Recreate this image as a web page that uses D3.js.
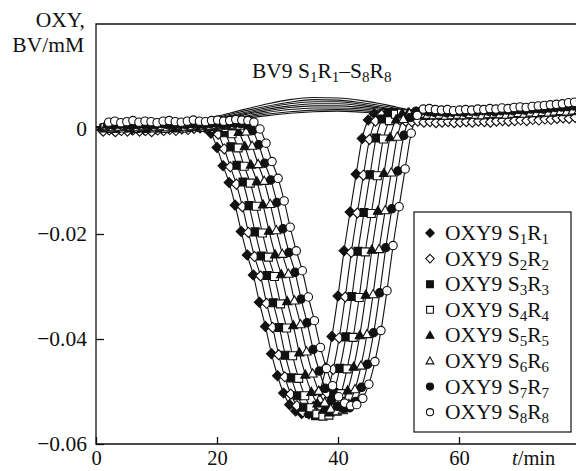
<!DOCTYPE html>
<html>
<head>
<meta charset="utf-8">
<script src="https://cdn.jsdelivr.net/npm/d3@7"></script>
<style>
  body { margin: 0; background: #fff; }
  svg { display: block; font-family: "Liberation Serif", "Times New Roman", serif; }
</style>
</head>
<body>
<svg id="chart" width="576" height="471"></svg>
<script>
// ---------------- DATA ----------------
const xTicks = [0, 20, 40, 60];
const yTicks = [-0.06, -0.04, -0.02, 0];
const yTickLabels = ["\u22120.06", "\u22120.04", "\u22120.02", "0"];
const legendLabels = ["1", "2", "3", "4", "5", "6", "7", "8"]; // OXY9 SkRk

// start minute of each run (sampled every 1 min)
const runStart = [1.0, 1.2, 1.3, 1.5, 1.6, 1.8, 1.9, 2.1];

const oxyS1R1 = [-0.0002,0.0000,-0.0003,-0.0001,0.0001,-0.0002,0.0000,-0.0002,0.0001,0.0000,-0.0001,0.0002,0.0001,0.0003,0.0002,0.0004,0.0005,
  0.0003,-0.0008,-0.0035,-0.0070,-0.0102,-0.0145,-0.0195,-0.0240,-0.0278,-0.0330,-0.0376,-0.0428,-0.0470,-0.0503,-0.0525,-0.0537,-0.0542,-0.0540,-0.0528,-0.0500,-0.0455,-0.0395,-0.0318,-0.0232,-0.0158,-0.0086,-0.0018,0.0017,0.0029,
  0.0027,0.0025,0.0023,0.0022,0.0023,0.0021,0.0022,0.0021,0.0022,0.0023,0.0021,0.0022,0.0021,0.0022,0.0023,0.0022,0.0023,0.0024,0.0023,0.0022,0.0024,0.0025,0.0024,0.0025,0.0026,0.0025,0.0026,0.0027,0.0028,0.0027,0.0028,0.0029,0.0030];
const oxyS2R2 = [-0.0004,-0.0002,-0.0005,-0.0003,-0.0004,-0.0001,-0.0004,-0.0003,-0.0005,-0.0002,-0.0003,-0.0001,-0.0003,0.0000,-0.0001,0.0001,0.0002,0.0003,
  0.0002,-0.0010,-0.0038,-0.0072,-0.0105,-0.0148,-0.0197,-0.0243,-0.0280,-0.0332,-0.0378,-0.0430,-0.0472,-0.0505,-0.0527,-0.0539,-0.0543,-0.0541,-0.0530,-0.0503,-0.0458,-0.0398,-0.0320,-0.0235,-0.0160,-0.0088,-0.0020,0.0015,0.0027,
  0.0024,0.0020,0.0017,0.0015,0.0014,0.0015,0.0013,0.0014,0.0012,0.0013,0.0014,0.0012,0.0013,0.0014,0.0013,0.0015,0.0014,0.0013,0.0015,0.0016,0.0015,0.0016,0.0017,0.0016,0.0018,0.0017,0.0019,0.0018,0.0020,0.0021,0.0020,0.0022];
const oxyS3R3 = [0.0002,0.0003,0.0001,0.0003,0.0002,0.0004,0.0002,0.0001,0.0003,0.0002,0.0004,0.0003,0.0002,0.0004,0.0003,0.0005,0.0004,0.0006,0.0005,
  0.0004,-0.0007,-0.0034,-0.0069,-0.0101,-0.0146,-0.0196,-0.0242,-0.0279,-0.0331,-0.0378,-0.0431,-0.0474,-0.0508,-0.0530,-0.0542,-0.0546,-0.0544,-0.0531,-0.0502,-0.0456,-0.0396,-0.0319,-0.0233,-0.0159,-0.0087,-0.0017,0.0019,0.0031,
  0.0032,0.0030,0.0029,0.0028,0.0029,0.0027,0.0028,0.0029,0.0027,0.0028,0.0029,0.0028,0.0030,0.0029,0.0028,0.0030,0.0031,0.0030,0.0029,0.0031,0.0032,0.0031,0.0032,0.0033,0.0032,0.0034,0.0033,0.0035,0.0034,0.0036,0.0037];
const oxyS4R4 = [0.0003,0.0001,0.0004,0.0002,0.0003,0.0001,0.0003,0.0004,0.0002,0.0003,0.0001,0.0004,0.0003,0.0002,0.0004,0.0005,0.0003,0.0005,0.0006,0.0005,
  0.0003,-0.0009,-0.0036,-0.0071,-0.0103,-0.0147,-0.0198,-0.0244,-0.0281,-0.0333,-0.0379,-0.0432,-0.0475,-0.0508,-0.0531,-0.0543,-0.0547,-0.0545,-0.0532,-0.0504,-0.0457,-0.0397,-0.0321,-0.0234,-0.0161,-0.0089,-0.0019,0.0016,0.0028,
  0.0030,0.0029,0.0027,0.0028,0.0026,0.0027,0.0028,0.0026,0.0027,0.0028,0.0027,0.0029,0.0028,0.0027,0.0029,0.0030,0.0029,0.0028,0.0030,0.0031,0.0030,0.0031,0.0032,0.0031,0.0033,0.0032,0.0034,0.0033,0.0035,0.0036];
const oxyS5R5 = [0.0004,0.0003,0.0005,0.0004,0.0002,0.0005,0.0004,0.0003,0.0005,0.0004,0.0006,0.0004,0.0003,0.0005,0.0006,0.0004,0.0006,0.0007,0.0006,0.0007,0.0006,
  0.0005,-0.0006,-0.0033,-0.0068,-0.0100,-0.0144,-0.0194,-0.0239,-0.0277,-0.0328,-0.0374,-0.0426,-0.0468,-0.0501,-0.0523,-0.0535,-0.0540,-0.0538,-0.0526,-0.0498,-0.0453,-0.0393,-0.0316,-0.0230,-0.0156,-0.0084,-0.0016,0.0018,0.0030,
  0.0031,0.0029,0.0027,0.0028,0.0026,0.0027,0.0028,0.0027,0.0029,0.0028,0.0027,0.0029,0.0030,0.0029,0.0028,0.0030,0.0031,0.0030,0.0032,0.0031,0.0033,0.0032,0.0034,0.0033,0.0035,0.0036,0.0035,0.0037,0.0038];
const oxyS6R6 = [0.0005,0.0003,0.0004,0.0006,0.0004,0.0003,0.0005,0.0006,0.0004,0.0005,0.0003,0.0005,0.0006,0.0004,0.0005,0.0007,0.0005,0.0006,0.0008,0.0007,0.0008,0.0007,
  0.0006,-0.0005,-0.0032,-0.0067,-0.0099,-0.0143,-0.0193,-0.0238,-0.0276,-0.0327,-0.0372,-0.0424,-0.0466,-0.0499,-0.0521,-0.0533,-0.0538,-0.0536,-0.0524,-0.0496,-0.0451,-0.0391,-0.0315,-0.0229,-0.0155,-0.0083,-0.0015,0.0019,0.0030,
  0.0031,0.0029,0.0027,0.0026,0.0027,0.0025,0.0026,0.0027,0.0026,0.0028,0.0027,0.0026,0.0028,0.0029,0.0028,0.0027,0.0029,0.0030,0.0029,0.0031,0.0030,0.0032,0.0031,0.0033,0.0034,0.0033,0.0035,0.0036];
const oxyS7R7 = [0.0008,0.0007,0.0009,0.0008,0.0006,0.0008,0.0009,0.0007,0.0008,0.0010,0.0008,0.0007,0.0009,0.0008,0.0010,0.0009,0.0008,0.0010,0.0011,0.0009,0.0010,0.0011,0.0010,
  0.0008,-0.0003,-0.0030,-0.0065,-0.0097,-0.0140,-0.0190,-0.0235,-0.0273,-0.0324,-0.0369,-0.0420,-0.0461,-0.0494,-0.0516,-0.0528,-0.0533,-0.0531,-0.0519,-0.0492,-0.0448,-0.0388,-0.0312,-0.0226,-0.0152,-0.0080,-0.0012,0.0022,0.0034,
  0.0035,0.0033,0.0032,0.0033,0.0031,0.0032,0.0033,0.0032,0.0034,0.0033,0.0035,0.0034,0.0033,0.0035,0.0036,0.0035,0.0037,0.0036,0.0038,0.0039,0.0038,0.0040,0.0041,0.0042,0.0043,0.0044,0.0046];
const oxyS8R8 = [0.0013,0.0015,0.0012,0.0014,0.0016,0.0013,0.0015,0.0014,0.0012,0.0015,0.0016,0.0014,0.0013,0.0015,0.0017,0.0015,0.0014,0.0016,0.0017,0.0015,0.0016,0.0018,0.0017,0.0016,
  0.0013,0.0000,-0.0027,-0.0062,-0.0094,-0.0137,-0.0187,-0.0232,-0.0270,-0.0320,-0.0365,-0.0416,-0.0456,-0.0489,-0.0510,-0.0522,-0.0527,-0.0525,-0.0513,-0.0486,-0.0443,-0.0384,-0.0308,-0.0222,-0.0148,-0.0076,-0.0008,0.0026,0.0038,
  0.0039,0.0037,0.0036,0.0037,0.0035,0.0036,0.0037,0.0036,0.0038,0.0037,0.0039,0.0038,0.0040,0.0039,0.0041,0.0042,0.0041,0.0043,0.0044,0.0045,0.0046,0.0047,0.0048,0.0050,0.0051,0.0053];

// BV9 curves, sampled every 4 min from 0 to 80
const bvMinutes = [0,4,8,12,16,20,24,28,32,36,40,44,48,52,56,60,64,68,72,76,80];
const bvS1R1 = [0.0004,0.0005,0.0006,0.0008,0.0014,0.0024,0.0036,0.0047,0.0056,0.0060,0.0059,0.0054,0.0046,0.0036,0.0030,0.0029,0.0030,0.0032,0.0034,0.0037,0.0040];
const bvS2R2 = [0.0004,0.0005,0.0005,0.0007,0.0013,0.0022,0.0033,0.0043,0.0051,0.0056,0.0055,0.0050,0.0043,0.0034,0.0029,0.0028,0.0029,0.0031,0.0033,0.0036,0.0039];
const bvS3R3 = [0.0003,0.0004,0.0005,0.0007,0.0012,0.0020,0.0030,0.0040,0.0048,0.0052,0.0052,0.0047,0.0040,0.0032,0.0028,0.0028,0.0029,0.0031,0.0033,0.0035,0.0038];
const bvS4R4 = [0.0003,0.0004,0.0005,0.0006,0.0011,0.0019,0.0028,0.0037,0.0044,0.0048,0.0048,0.0044,0.0038,0.0031,0.0027,0.0027,0.0028,0.0030,0.0032,0.0035,0.0037];
const bvS5R5 = [0.0003,0.0004,0.0004,0.0006,0.0010,0.0017,0.0026,0.0034,0.0041,0.0044,0.0044,0.0041,0.0036,0.0030,0.0027,0.0027,0.0028,0.0030,0.0032,0.0034,0.0037];
const bvS6R6 = [0.0003,0.0003,0.0004,0.0005,0.0009,0.0015,0.0023,0.0031,0.0037,0.0040,0.0040,0.0038,0.0033,0.0029,0.0026,0.0026,0.0028,0.0029,0.0031,0.0034,0.0036];
const bvS7R7 = [0.0003,0.0003,0.0004,0.0005,0.0008,0.0014,0.0021,0.0028,0.0033,0.0036,0.0037,0.0035,0.0031,0.0028,0.0026,0.0026,0.0027,0.0029,0.0031,0.0033,0.0036];
const bvS8R8 = [0.0002,0.0003,0.0004,0.0005,0.0008,0.0013,0.0019,0.0025,0.0030,0.0033,0.0034,0.0032,0.0029,0.0027,0.0025,0.0025,0.0027,0.0029,0.0031,0.0033,0.0035];

const oxySeries = [oxyS1R1, oxyS2R2, oxyS3R3, oxyS4R4, oxyS5R5, oxyS6R6, oxyS7R7, oxyS8R8];
const bvSeries = [bvS1R1, bvS2R2, bvS3R3, bvS4R4, bvS5R5, bvS6R6, bvS7R7, bvS8R8];
const markerKinds = ["diamond", "diamond", "square", "square", "triangle", "triangle", "circle", "circle"];
const markerFilled = [true, false, true, false, true, false, true, false];

// ---------------- LAYOUT ----------------
const svg = d3.select("#chart");
const L = 96, T = 24, B = 444, R = 576;
const x = d3.scaleLinear().domain([0, 80]).range([L, L + 80 * 6.05]);
const y = d3.scaleLinear().domain([-0.06, 0.02]).range([B, T]);

svg.append("defs").append("clipPath").attr("id", "plotclip")
  .append("rect").attr("x", L).attr("y", T).attr("width", R - L).attr("height", B - T);

const plot = svg.append("g").attr("clip-path", "url(#plotclip)");

const line = d3.line().x(d => x(d[0])).y(d => y(d[1])).curve(d3.curveMonotoneX);

// BV9 lines
bvSeries.forEach(vals => {
  const pts = vals.map((v, i) => [bvMinutes[i], v]);
  plot.append("path").attr("d", line(pts)).attr("fill", "none")
    .attr("stroke", "#111").attr("stroke-width", 1.1);
});

// OXY lines
const oxyPts = oxySeries.map((vals, k) => vals.map((v, i) => [runStart[k] + i, v]));
oxyPts.forEach(pts => {
  plot.append("path").attr("d", line(pts)).attr("fill", "none")
    .attr("stroke", "#111").attr("stroke-width", 1.1);
});

function markerPath(kind, s) {
  switch (kind) {
    case "diamond": return `M0,${-5*s}L${5*s},0L0,${5*s}L${-5*s},0Z`;
    case "square": return `M${-4*s},${-4*s}H${4*s}V${4*s}H${-4*s}Z`;
    case "triangle": return `M0,${-4.8*s}L${4.6*s},${3.4*s}H${-4.6*s}Z`;
  }
}
function drawMarker(g, kind, filled, cx, cy, s) {
  let el;
  if (kind === "circle") {
    el = g.append("circle").attr("cx", cx).attr("cy", cy).attr("r", 4.2 * s);
  } else {
    el = g.append("path").attr("d", markerPath(kind, s)).attr("transform", `translate(${cx},${cy})`);
  }
  el.attr("fill", filled ? "#111" : "#fff").attr("stroke", "#111").attr("stroke-width", 1.1);
}

oxyPts.forEach((pts, k) => {
  const g = plot.append("g");
  pts.forEach(p => {
    if (p[0] <= 81) drawMarker(g, markerKinds[k], markerFilled[k], x(p[0]), y(p[1]), 1);
  });
});

// ---------------- AXES ----------------
const fs = 21.5;
const yAxis = d3.axisLeft(y).tickValues(yTicks).tickSizeInner(-8).tickSizeOuter(0).tickPadding(9)
  .tickFormat((d, i) => yTickLabels[i]);
const gy = svg.append("g").attr("transform", `translate(${L},0)`).call(yAxis);
gy.select(".domain").remove();
gy.selectAll("line").attr("stroke", "#111").attr("stroke-width", 1.3);
gy.selectAll("text").attr("font-family", "Liberation Serif").attr("font-size", fs).attr("fill", "#111");

const xfs = 20.5;
const xAxis = d3.axisBottom(x).tickValues(xTicks).tickSizeInner(-7).tickSizeOuter(0).tickFormat(d3.format("d"));
const gx = svg.append("g").attr("transform", `translate(0,${B})`).call(xAxis);
gx.select(".domain").remove();
gx.selectAll("line").attr("stroke", "#111").attr("stroke-width", 1.3);
gx.selectAll("text").attr("font-family", "Liberation Serif").attr("font-size", xfs).attr("fill", "#111")
  .attr("y", 21).attr("dy", null);

// frame: left, top, bottom
svg.append("path").attr("d", `M${R},${T}H${L}V${B}H${R}`).attr("fill", "none")
  .attr("stroke", "#111").attr("stroke-width", 1.3);

// axis titles
svg.append("text").attr("x", 85).attr("y", 27).attr("text-anchor", "end")
  .attr("font-size", fs).attr("fill", "#111").text("OXY,");
svg.append("text").attr("x", 84).attr("y", 52).attr("text-anchor", "end")
  .attr("font-size", fs).attr("fill", "#111").text("BV/mM");

const xt = svg.append("text").attr("x", 512).attr("y", 465).attr("font-size", xfs).attr("fill", "#111");
xt.append("tspan").attr("font-style", "italic").text("t");
xt.append("tspan").text("/min");

// BV9 annotation
function subText(sel, parts) {
  parts.forEach(p => {
    const t = sel.append("tspan").text(p[0]);
    if (p[1]) t.attr("font-size", fs * 0.7).attr("dy", 4);
    else t.attr("dy", p[2] || null);
  });
}
const ann = svg.append("text").attr("x", 252).attr("y", 78).attr("font-size", fs).attr("fill", "#111");
subText(ann, [["BV9 S"], ["1", true], ["R", false, -4], ["1", true], ["\u2013S", false, -4], ["8", true], ["R", false, -4], ["8", true]]);

// ---------------- LEGEND ----------------
const lg = svg.append("g");
lg.append("rect").attr("x", 414).attr("y", 212).attr("width", 157).attr("height", 220)
  .attr("fill", "#fff").attr("stroke", "#111").attr("stroke-width", 1.2);
legendLabels.forEach((n, i) => {
  const cy = 233 + i * 25.6;
  drawMarker(lg, markerKinds[i], markerFilled[i], 430, cy, 0.85);
  const t = lg.append("text").attr("x", 445).attr("y", cy + 7).attr("font-size", fs).attr("fill", "#111");
  subText(t, [["OXY9 S"], [n, true], ["R", false, -4], [n, true]]);
});
</script>
</body>
</html>
